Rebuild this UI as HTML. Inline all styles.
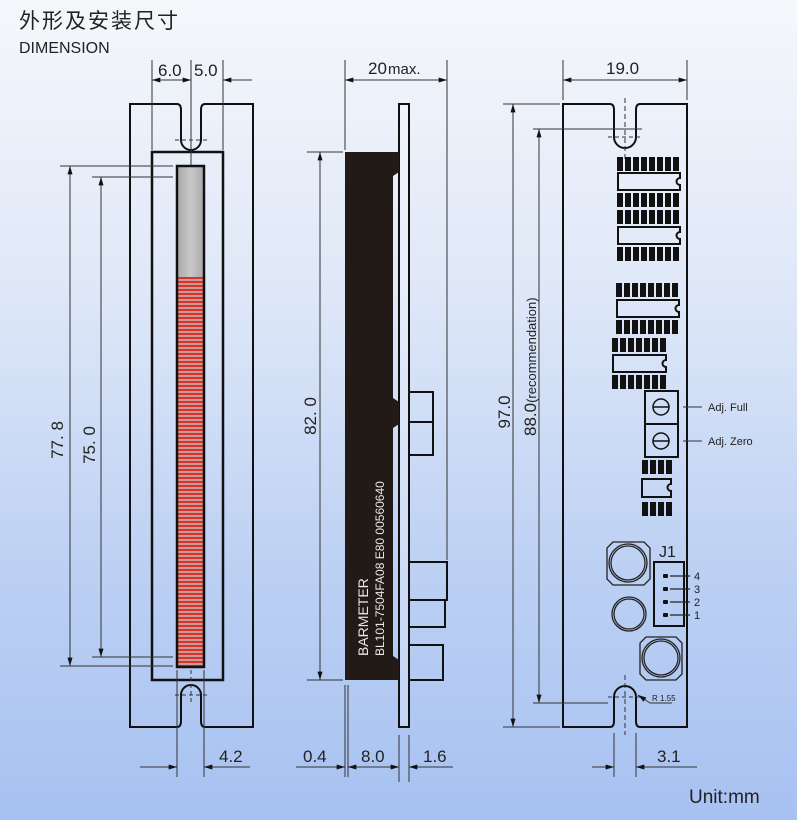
<!DOCTYPE html>
<html><head><meta charset="utf-8"><style>
html,body{margin:0;padding:0;width:797px;height:820px;overflow:hidden}
body{background:linear-gradient(180deg,#f5f7fb 0%,#dfe8f8 35%,#bcd0f3 70%,#a7c1f1 100%);font-family:"Liberation Sans","Noto Sans CJK SC",sans-serif}
svg{position:absolute;left:0;top:0}
text{font-family:"Liberation Sans","Noto Sans CJK SC",sans-serif;fill:#222}
</style></head><body>
<svg width="797" height="820" viewBox="0 0 797 820">
<defs>
<marker id="a" viewBox="0 0 10 6" refX="10" refY="3" markerWidth="12" markerHeight="5" orient="auto-start-reverse" markerUnits="userSpaceOnUse"><path d="M0,0L10,3L0,6z" fill="#111"/></marker>
<pattern id="red" width="27" height="4" patternUnits="userSpaceOnUse" y="277"><rect width="27" height="4" fill="#c99a98"/><rect width="27" height="2" fill="#d8322a"/></pattern>
<linearGradient id="gr" x1="0" x2="1"><stop offset="0" stop-color="#a9a9a9"/><stop offset=".5" stop-color="#c8c8c8"/><stop offset="1" stop-color="#a9a9a9"/></linearGradient>
<g id="p8" fill="#111"><rect x="617" y="0" width="6" height="14"/><rect x="625" y="0" width="6" height="14"/><rect x="633" y="0" width="6" height="14"/><rect x="641" y="0" width="6" height="14"/><rect x="649" y="0" width="6" height="14"/><rect x="657" y="0" width="6" height="14"/><rect x="665" y="0" width="6" height="14"/><rect x="673" y="0" width="6" height="14"/></g>
<g id="p7" fill="#111"><rect x="612" y="0" width="6" height="14"/><rect x="620" y="0" width="6" height="14"/><rect x="628" y="0" width="6" height="14"/><rect x="636" y="0" width="6" height="14"/><rect x="644" y="0" width="6" height="14"/><rect x="652" y="0" width="6" height="14"/><rect x="660" y="0" width="6" height="14"/></g>
<g id="p4" fill="#111"><rect x="642" y="0" width="6" height="14"/><rect x="650" y="0" width="6" height="14"/><rect x="658" y="0" width="6" height="14"/><rect x="666" y="0" width="6" height="14"/></g>
</defs>
<text x="19" y="28" font-size="21" style="letter-spacing:2px">外形及安装尺寸</text>
<text x="19" y="53" font-size="16">DIMENSION</text>
<text x="689" y="803" font-size="19">Unit:mm</text>

<g stroke="#111" fill="none" stroke-width="2">
<path d="M130,104H177Q181,104 181,110V140A10,10 0 0 0 201,140V110Q201,104 205,104H253V727H205Q201,727 201,721V695A10,10 0 0 0 181,695V721Q181,727 177,727H130Z"/>
<rect x="152" y="152" width="71" height="528" stroke-width="2.5"/>
</g>
<rect x="177" y="166" width="27" height="111" fill="url(#gr)"/>
<rect x="177" y="277" width="27" height="390" fill="url(#red)"/>
<rect x="177" y="166" width="27" height="501" fill="none" stroke="#111" stroke-width="2.5"/>
<g stroke="#333" stroke-width="1" fill="none">
<line x1="191" y1="60" x2="191" y2="165"/><line x1="191" y1="670" x2="191" y2="705" stroke-dasharray="4,3"/>
<line x1="175" y1="140" x2="208" y2="140" stroke-dasharray="4,3"/><line x1="175" y1="695" x2="208" y2="695" stroke-dasharray="4,3"/>
<line x1="152" y1="60" x2="152" y2="150"/><line x1="223" y1="60" x2="223" y2="150"/>
<line x1="152" y1="80" x2="191" y2="80" marker-start="url(#a)" marker-end="url(#a)"/>
<line x1="252" y1="80" x2="223" y2="80" marker-end="url(#a)"/>
<line x1="60" y1="166" x2="173" y2="166"/><line x1="60" y1="666" x2="173" y2="666"/>
<line x1="92" y1="177" x2="173" y2="177"/><line x1="92" y1="657" x2="173" y2="657"/>
<line x1="70" y1="166" x2="70" y2="666" marker-start="url(#a)" marker-end="url(#a)"/>
<line x1="101" y1="177" x2="101" y2="657" marker-start="url(#a)" marker-end="url(#a)"/>
<line x1="177" y1="670" x2="177" y2="777"/><line x1="204" y1="670" x2="204" y2="777"/>
<line x1="140" y1="767" x2="177" y2="767" marker-end="url(#a)"/><line x1="250" y1="767" x2="204" y2="767" marker-end="url(#a)"/>
</g>
<text x="158" y="76" font-size="17">6.0</text><text x="194" y="76" font-size="17">5.0</text>
<text x="219" y="762" font-size="17">4.2</text>
<text transform="translate(63,440) rotate(-90)" font-size="17" text-anchor="middle">77. 8</text>
<text transform="translate(95,445) rotate(-90)" font-size="17" text-anchor="middle">75. 0</text>

<!-- SIDE -->
<rect x="399" y="104" width="10" height="623" fill="#fff" fill-opacity=".25" stroke="#111" stroke-width="2"/>
<path d="M345,152H399V172L393,176V398L399,402V424L393,428V656L399,660V680H345Z" fill="#221a17"/>
<g fill="none" stroke="#111" stroke-width="2">
<rect x="409" y="392" width="24" height="30"/><rect x="409" y="422" width="24" height="33"/>
<rect x="409" y="562" width="38" height="38"/><rect x="409" y="600" width="36" height="27"/>
<rect x="409" y="645" width="34" height="35"/>
</g>
<g transform="translate(368,656) rotate(-90)">
<text x="0" y="0" font-size="14" style="fill:#e8e8e8">BARMETER</text>
<text x="0" y="16" font-size="12" style="fill:#e8e8e8">BL101-7504FA08 E80 00560640</text>
</g>
<g stroke="#333" stroke-width="1" fill="none">
<line x1="345" y1="60" x2="345" y2="150"/><line x1="447" y1="60" x2="447" y2="560"/>
<line x1="345" y1="80" x2="447" y2="80" marker-start="url(#a)" marker-end="url(#a)"/>
<line x1="307" y1="152" x2="343" y2="152"/><line x1="307" y1="680" x2="343" y2="680"/>
<line x1="320" y1="152" x2="320" y2="680" marker-start="url(#a)" marker-end="url(#a)"/>
<line x1="345" y1="685" x2="345" y2="777"/><line x1="348" y1="685" x2="348" y2="777"/>
<line x1="399" y1="735" x2="399" y2="782"/><line x1="409" y1="735" x2="409" y2="782"/>
<line x1="296" y1="767" x2="345" y2="767" marker-end="url(#a)"/>
<line x1="348" y1="767" x2="399" y2="767" marker-start="url(#a)" marker-end="url(#a)"/>
<line x1="453" y1="767" x2="409" y2="767" marker-end="url(#a)"/>
</g>
<text x="368" y="74" font-size="17">20</text><text x="388" y="74" font-size="15">max.</text>
<text x="303" y="762" font-size="17">0.4</text><text x="361" y="762" font-size="17">8.0</text><text x="423" y="762" font-size="17">1.6</text>
<text transform="translate(316,416) rotate(-90)" font-size="17" text-anchor="middle">82. 0</text>

<!-- RIGHT -->
<path d="M563,104H610Q614,104 614,110V137A11,11 0 0 0 636,137V110Q636,104 640,104H687V727H640Q636,727 636,721V697A11,11 0 0 0 614,697V721Q614,727 610,727H563Z" fill="none" stroke="#111" stroke-width="2"/>
<g stroke="#333" stroke-width="1" fill="none">
<line x1="625" y1="98" x2="625" y2="160" stroke-dasharray="5,3"/><line x1="625" y1="675" x2="625" y2="735" stroke-dasharray="5,3"/>
<line x1="608" y1="137" x2="642" y2="137" stroke-dasharray="4,3"/><line x1="608" y1="697" x2="642" y2="697" stroke-dasharray="4,3"/>
<line x1="563" y1="60" x2="563" y2="100"/><line x1="687" y1="60" x2="687" y2="100"/>
<line x1="563" y1="80" x2="687" y2="80" marker-start="url(#a)" marker-end="url(#a)"/>
<line x1="503" y1="104" x2="560" y2="104"/><line x1="503" y1="727" x2="560" y2="727"/>
<line x1="533" y1="129" x2="642" y2="129"/><line x1="533" y1="703" x2="608" y2="703"/>
<line x1="513" y1="104" x2="513" y2="727" marker-start="url(#a)" marker-end="url(#a)"/>
<line x1="539" y1="129" x2="539" y2="703" marker-start="url(#a)" marker-end="url(#a)"/>
<line x1="614" y1="733" x2="614" y2="777"/><line x1="636" y1="733" x2="636" y2="777"/>
<line x1="592" y1="767" x2="614" y2="767" marker-end="url(#a)"/><line x1="697" y1="767" x2="636" y2="767" marker-end="url(#a)"/>
<line x1="672" y1="703" x2="650" y2="703"/><line x1="650" y1="703" x2="638" y2="695" marker-end="url(#a)"/>
<line x1="683" y1="407" x2="702" y2="407"/><line x1="683" y1="441" x2="702" y2="441"/>
</g>
<text x="606" y="74" font-size="17">19.0</text>
<text x="657" y="762" font-size="17">3.1</text>
<text x="652" y="701" font-size="8">R 1.55</text>
<text transform="translate(510,412) rotate(-90)" font-size="17" text-anchor="middle">97.0</text>
<text transform="translate(536,436) rotate(-90)" font-size="17">88.0<tspan font-size="13">(recommendation)</tspan></text>
<text x="708" y="411" font-size="11">Adj. Full</text>
<text x="708" y="445" font-size="11">Adj. Zero</text>

<use href="#p8" y="157"/><use href="#p8" y="193"/><use href="#p8" y="210"/><use href="#p8" y="247"/>
<use href="#p8" x="-1" y="283"/><use href="#p8" x="-1" y="320"/>
<use href="#p7" y="338"/><use href="#p7" y="375"/>
<use href="#p4" y="460"/><use href="#p4" y="502"/>
<g fill="none" stroke="#111" stroke-width="2">
<path d="M618,173H680V178A3,3 0 0 0 680,185V190H618Z"/>
<path d="M618,227H680V232A3,3 0 0 0 680,239V244H618Z"/>
<path d="M617,300H679V305A3,3 0 0 0 679,312V317H617Z"/>
<path d="M613,355H666V360A3,3 0 0 0 666,367V372H613Z"/>
<path d="M642,479H671V484A3,3 0 0 0 671,491V497H642Z"/>
<rect x="645" y="391" width="33" height="33"/><rect x="645" y="424" width="33" height="33"/>
<circle cx="661" cy="407" r="8" stroke-width="1.5"/><line x1="653" y1="407" x2="669" y2="407" stroke-width="1.5"/>
<circle cx="661" cy="441" r="8" stroke-width="1.5"/><line x1="653" y1="441" x2="669" y2="441" stroke-width="1.5"/>
<rect x="654" y="562" width="30" height="64"/>
</g>
<g fill="none" stroke="#222" stroke-width="1.3">
<path d="M613,542H644L650,548V579L644,585H613L607,579V548Z"/>
<circle cx="628" cy="563" r="19"/><circle cx="628" cy="563" r="17"/>
<circle cx="629" cy="614" r="17"/><circle cx="629" cy="614" r="15"/>
<path d="M646,637H676L682,643V674L676,680H646L640,674V643Z"/>
<circle cx="661" cy="658" r="19"/><circle cx="661" cy="658" r="17"/>
<line x1="670" y1="576" x2="690" y2="576"/><line x1="670" y1="589" x2="690" y2="589"/><line x1="670" y1="602" x2="690" y2="602"/><line x1="670" y1="615" x2="690" y2="615"/>
</g>
<g fill="#111"><rect x="663" y="574" width="5" height="4" rx="1"/><rect x="663" y="587" width="5" height="4" rx="1"/><rect x="663" y="600" width="5" height="4" rx="1"/><rect x="663" y="613" width="5" height="4" rx="1"/></g>
<text x="659" y="557" font-size="16">J1</text>
<text x="694" y="580" font-size="11">4</text><text x="694" y="593" font-size="11">3</text><text x="694" y="606" font-size="11">2</text><text x="694" y="619" font-size="11">1</text>
</svg>
</body></html>
